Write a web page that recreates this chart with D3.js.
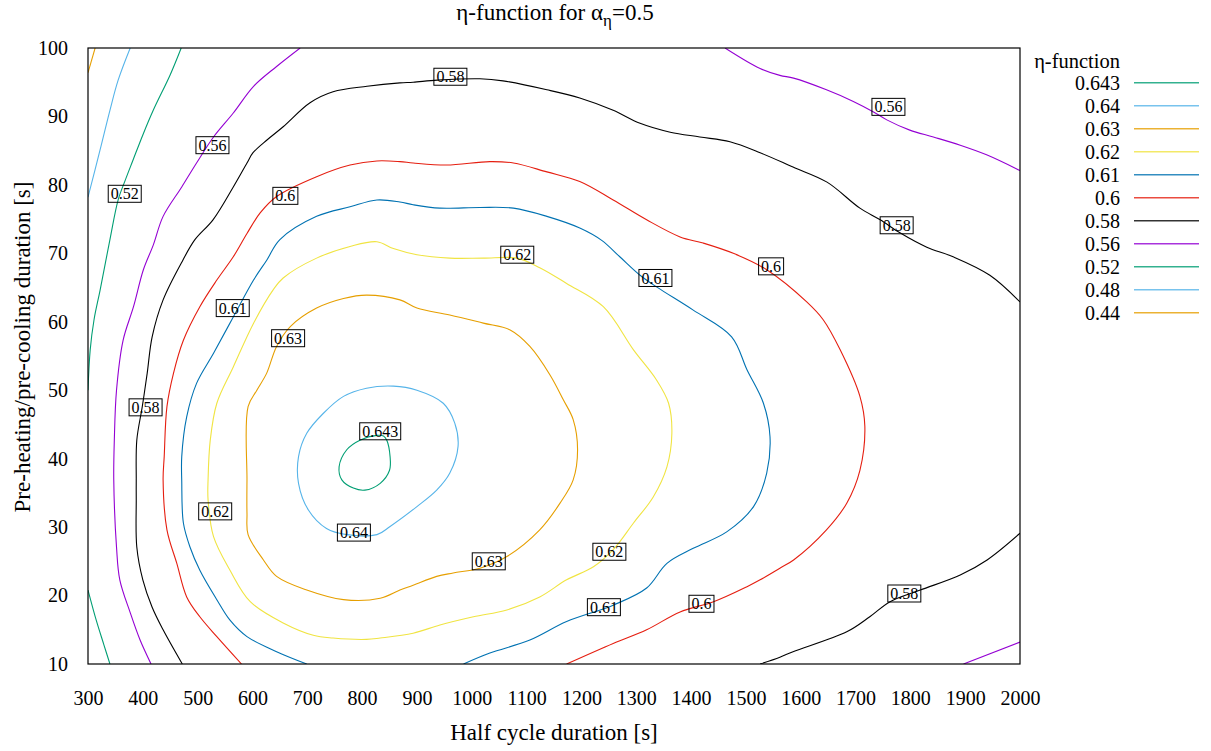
<!DOCTYPE html>
<html>
<head>
<meta charset="utf-8">
<script src="https://cdn.jsdelivr.net/npm/d3@7"></script>
<style>
  body { margin: 0; background: #fff; }
  svg { display: block; font-family: "Liberation Serif", "DejaVu Serif", serif; }
</style>
</head>
<body>
<svg id="chart" width="1211" height="751"></svg>
<script>
// Contour lines of the eta-function; points are [half cycle duration (s), pre-heating duration (s)]
const level044 = [[300, 96.4], [313, 100]];
const level048 = [[300, 78.2], [322, 85.1], [340, 90.9], [355, 95.3], [377, 100]];
const level052Top = [[470, 100], [450, 96.1], [419, 90.9], [400, 87.3], [382, 83.6], [368, 80.7],
  [355, 77.8], [340, 72.0], [322, 64.6], [311, 60.3], [304, 55.9], [300, 50.0]];
const level052Bottom = [[300, 20.8], [315, 16.4], [329, 12.8], [340, 10]];
const level056Left = [[687, 100], [644, 97.3], [602, 94.4], [565, 90.5], [529, 87.0], [498, 83.2],
  [471, 79.7], [437, 75.4], [419, 71.2], [401, 67.6], [383, 62.2], [364, 57.3], [352, 50.0],
  [348, 42.7], [347, 36.9], [352, 27.1], [358, 22.3], [377, 17.5], [395, 13.5], [415, 10]];
const level056Right = [[1462, 100], [1526, 97.0], [1562, 96.0], [1587, 95.6], [1647, 93.9],
  [1696, 92.2], [1732, 90.7], [1757, 89.5], [1799, 88.0], [1842, 87.0], [1891, 85.8],
  [1939, 84.4], [2000, 82.1]];
const level056Corner = [[1897, 10], [2000, 13.2]];
const level058Main = [[2000, 62.9], [1945, 66.8], [1878, 69.5], [1830, 70.9], [1781, 73.0],
  [1745, 74.9], [1708, 76.6], [1648, 80.4], [1586, 82.6], [1526, 84.7], [1471, 86.3],
  [1416, 87.0], [1362, 87.7], [1307, 89.0], [1258, 90.9], [1197, 92.7], [1137, 93.9],
  [1057, 95.2], [1015, 95.5], [937, 95.3], [893, 95.0], [869, 94.9], [809, 94.4], [747, 93.6],
  [705, 92.0], [656, 88.5], [627, 86.6], [601, 84.7], [590, 83.2], [565, 79.7], [528, 74.9],
  [495, 72.0], [473, 69.0], [437, 63.2], [417, 57.8], [408, 52.5], [399, 47.6],
  [389, 42.7], [388, 36.9], [388, 34.0], [389, 27.1], [400, 22.3], [417, 18.3], [437, 15.0],
  [472, 10]];
const level058Bottom = [[1526, 10], [1562, 11.0], [1586, 11.8], [1684, 14.7], [1726, 16.9],
  [1763, 19.1], [1818, 20.8], [1891, 23.0], [1940, 25.2], [2000, 29.1]];
const level060 = [[580, 10], [535, 14.0], [504, 16.9], [480, 19.8], [462, 24.7], [444, 29.6],
  [437, 36.9], [439, 40.3], [444, 47.6], [456, 52.5], [474, 57.3], [504, 62.2], [535, 66.1],
  [565, 69.5], [590, 72.9], [614, 75.9], [644, 78.3], [717, 81.2], [778, 82.9], [827, 83.5],
  [869, 83.4], [893, 83.2], [954, 82.9], [1033, 83.4], [1076, 83.2], [1137, 81.9],
  [1197, 80.5], [1258, 77.8], [1319, 74.9], [1380, 72.4], [1422, 71.5], [1477, 70.0],
  [1538, 67.6], [1611, 62.9], [1641, 60.3], [1672, 55.9], [1708, 49.1], [1717, 44.7],
  [1708, 38.3], [1684, 33.5], [1647, 29.6], [1587, 25.2], [1562, 24.0], [1526, 22.3],
  [1502, 21.3], [1441, 19.1], [1380, 17.6], [1319, 15.0], [1258, 13.0], [1173, 10]];
const level061 = [[699, 10], [644, 11.8], [590, 14.0], [559, 16.4], [535, 19.4], [504, 23.7],
  [486, 27.1], [474, 30.6], [471, 36.7], [471, 40.3], [480, 46.1], [498, 51.0], [529, 55.4],
  [565, 60.7], [602, 66.1], [626, 69.0], [650, 72.0], [717, 75.4], [778, 76.8], [827, 77.8],
  [869, 77.5], [893, 77.1], [942, 76.6], [1015, 76.7], [1076, 76.6], [1137, 75.4],
  [1197, 73.7], [1237, 71.9], [1270, 69.5], [1307, 66.8], [1337, 65.1], [1404, 61.7],
  [1474, 57.8], [1502, 53.0], [1532, 48.1], [1544, 43.2], [1538, 37.9], [1514, 33.0],
  [1465, 29.3], [1404, 26.9], [1356, 24.7], [1319, 21.1], [1258, 18.6], [1173, 16.2],
  [1106, 13.5], [1033, 11.6], [985, 10]];
const level062 = [[827, 71.7], [857, 70.7], [900, 69.8], [960, 69.3], [1021, 69.3], [1082, 69.3],
  [1124, 67.9], [1173, 65.6], [1240, 62.2], [1295, 55.9], [1337, 51.5], [1359, 48.1],
  [1365, 43.7], [1356, 38.8], [1331, 34.4], [1295, 30.6], [1258, 26.7], [1222, 24.2],
  [1173, 22.3], [1124, 19.8], [1064, 17.9], [1003, 16.9], [942, 15.7], [893, 14.5],
  [833, 13.8], [808, 13.6], [747, 13.8], [711, 14.2], [656, 16.0], [596, 19.1], [559, 23.7],
  [529, 28.6], [519, 34.0], [519, 36.9], [523, 42.7], [535, 48.1], [565, 53.4], [602, 59.8],
  [638, 64.7], [656, 66.4], [717, 69.3], [778, 71.0]];
const level063 = [[808, 63.9], [869, 63.2], [900, 62.0], [960, 61.0], [1021, 59.8], [1070, 58.8],
  [1106, 56.4], [1143, 52.2], [1167, 48.6], [1185, 45.7], [1193, 41.3], [1185, 36.9],
  [1161, 33.5], [1124, 29.6], [1064, 25.7], [1015, 24.0], [966, 23.3], [936, 22.8],
  [893, 21.5], [869, 20.8], [833, 19.6], [766, 19.4], [699, 20.8], [644, 22.8], [620, 25.2],
  [592, 28.9], [590, 32.0], [590, 36.9], [592, 47.6], [608, 50.0], [626, 52.5], [644, 56.4],
  [669, 59.3], [717, 62.0], [766, 63.4]];
const level064 = [[857, 50.6], [808, 50.3], [766, 49.1], [729, 46.6], [699, 43.7], [684, 40.3],
  [684, 36.4], [702, 32.5], [735, 29.8], [772, 28.9], [827, 28.9], [851, 30.1], [900, 33.0],
  [936, 35.4], [960, 37.9], [975, 41.8], [969, 45.2], [948, 48.1], [900, 50.0]];
const level0643 = [[827, 43.4], [796, 42.7], [772, 41.3], [758, 38.8], [763, 36.9], [784, 35.7],
  [805, 35.4], [833, 36.4], [850, 38.3], [851, 40.3], [845, 42.7], [839, 43.3]];

// Which line belongs to which level, and whether it closes on itself
const contourLevels = [0.643, 0.64, 0.63, 0.62, 0.61, 0.6, 0.58, 0.56, 0.52, 0.48, 0.44];
const levelColors = ["#009E73", "#56B4E9", "#E69F00", "#F0E442", "#0072B2", "#E51E10",
  "#000000", "#9400D3", "#009E73", "#56B4E9", "#E69F00"];
const lineLevels = [0.44, 0.48, 0.52, 0.52, 0.56, 0.56, 0.56, 0.58, 0.58, 0.6, 0.61, 0.62, 0.63, 0.64, 0.643];
const linePoints = [level044, level048, level052Top, level052Bottom, level056Left, level056Right,
  level056Corner, level058Main, level058Bottom, level060, level061, level062, level063, level064, level0643];
const lineClosed = [false, false, false, false, false, false, false, false, false, false, false,
  true, true, true, true];

// In-line contour labels: text, x (s), y (s)
const labelText = ["0.58", "0.56", "0.52", "0.6", "0.62", "0.61", "0.6", "0.56", "0.58", "0.61",
  "0.63", "0.58", "0.643", "0.62", "0.64", "0.63", "0.62", "0.61", "0.6", "0.58"];
const labelX = [961, 527, 367, 660, 1083, 1335, 1546, 1760, 1775, 564, 665, 405, 833, 532, 785,
  1031, 1251, 1241, 1419, 1789];
const labelY = [95.8, 85.8, 78.7, 78.4, 69.8, 66.4, 68.1, 91.4, 74.1, 62.0, 57.6, 47.5, 44.0,
  32.3, 29.2, 25.0, 26.4, 18.3, 18.8, 20.3];

const xTicks = [300, 400, 500, 600, 700, 800, 900, 1000, 1100, 1200, 1300, 1400, 1500, 1600,
  1700, 1800, 1900, 2000];
const yTicks = [10, 20, 30, 40, 50, 60, 70, 80, 90, 100];

const svg = d3.select("#chart");
const plot = { left: 88, right: 1020, top: 48, bottom: 664 };

const x = d3.scaleLinear().domain([300, 2000]).range([plot.left, plot.right]);
const y = d3.scaleLinear().domain([10, 100]).range([plot.bottom, plot.top]);
const color = d3.scaleOrdinal().domain(contourLevels).range(levelColors);

svg.append("defs").append("clipPath").attr("id", "plot-clip")
  .append("rect")
  .attr("x", plot.left).attr("y", plot.top)
  .attr("width", plot.right - plot.left).attr("height", plot.bottom - plot.top);

// Title with subscript
const title = svg.append("text")
  .attr("x", 555).attr("y", 20)
  .attr("text-anchor", "middle")
  .attr("font-size", 23);
title.append("tspan").text("η-function for α");
title.append("tspan").attr("font-size", 17).attr("dy", 6).text("η");
title.append("tspan").attr("dy", -6).text("=0.5");

// Axes
const xAxis = svg.append("g")
  .attr("transform", `translate(0,${plot.bottom})`)
  .call(d3.axisBottom(x).tickValues(xTicks).tickSize(0).tickPadding(27).tickFormat(d3.format("d")));
const yAxis = svg.append("g")
  .attr("transform", `translate(${plot.left},0)`)
  .call(d3.axisLeft(y).tickValues(yTicks).tickSize(0).tickPadding(20).tickFormat(d3.format("d")));
[xAxis, yAxis].forEach(g => {
  g.select(".domain").remove();
  g.selectAll("text").attr("font-size", 20).attr("font-family", "Liberation Serif").attr("fill", "#000");
});

svg.append("text")
  .attr("x", (plot.left + plot.right) / 2).attr("y", 740)
  .attr("text-anchor", "middle").attr("font-size", 23)
  .text("Half cycle duration [s]");
svg.append("text")
  .attr("transform", "translate(30,347) rotate(-90)")
  .attr("text-anchor", "middle").attr("font-size", 23)
  .text("Pre-heating/pre-cooling duration [s]");

// Contour lines
const openLine = d3.line().x(d => x(d[0])).y(d => y(d[1])).curve(d3.curveCatmullRom.alpha(0.5));
const closedLine = d3.line().x(d => x(d[0])).y(d => y(d[1])).curve(d3.curveCatmullRomClosed.alpha(0.5));

const lines = svg.append("g").attr("clip-path", "url(#plot-clip)");
linePoints.forEach((pts, i) => {
  lines.append("path")
    .attr("d", (lineClosed[i] ? closedLine : openLine)(pts))
    .attr("fill", "none")
    .attr("stroke", color(lineLevels[i]))
    .attr("stroke-width", 1.1);
});

// Contour labels in outlined boxes
const labels = svg.append("g");
labelText.forEach((t, i) => {
  const g = labels.append("g").attr("transform", `translate(${x(labelX[i])},${y(labelY[i])})`);
  const txt = g.append("text")
    .attr("text-anchor", "middle").attr("dy", "0.35em")
    .attr("font-size", 16).text(t);
  const w = txt.node().getComputedTextLength();
  g.insert("rect", "text")
    .attr("x", -w / 2 - 2.5).attr("y", -8.5)
    .attr("width", w + 5).attr("height", 17)
    .attr("fill", "none").attr("stroke", "#000").attr("stroke-width", 1);
});

// Plot frame
svg.append("rect")
  .attr("x", plot.left).attr("y", plot.top)
  .attr("width", plot.right - plot.left).attr("height", plot.bottom - plot.top)
  .attr("fill", "none").attr("stroke", "#000").attr("stroke-width", 1.2);

// Legend
const legend = svg.append("g");
legend.append("text")
  .attr("x", 1120).attr("y", 61).attr("dy", "0.35em")
  .attr("text-anchor", "end").attr("font-size", 20.5)
  .text("η-function");
contourLevels.forEach((lv, i) => {
  const ly = 83.3 + i * 23;
  legend.append("text")
    .attr("x", 1120).attr("y", ly).attr("dy", "0.35em")
    .attr("text-anchor", "end").attr("font-size", 20)
    .text(String(lv));
  legend.append("line")
    .attr("x1", 1134).attr("x2", 1199)
    .attr("y1", ly - 0.5).attr("y2", ly - 0.5)
    .attr("stroke", color(lv)).attr("stroke-width", 1.6).attr("stroke-opacity", 0.8);
});
</script>
</body>
</html>
